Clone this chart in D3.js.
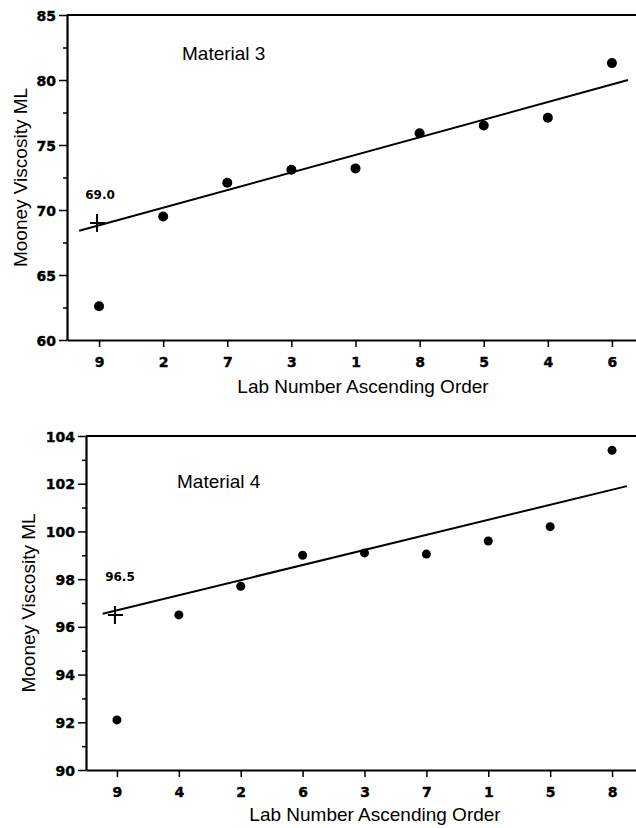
<!DOCTYPE html>
<html>
<head>
<meta charset="utf-8">
<script src="https://cdn.jsdelivr.net/npm/d3@7"></script>
<style>
  body { margin: 0; background: #fff; }
  svg { display: block; }
  .label { font-family: "Liberation Sans", Arial, sans-serif; font-size: 19px; fill: #000; }
</style>
</head>
<body>
<svg width="636" height="828"></svg>
<script>
// Material 3
const labsM3 = ["9", "2", "7", "3", "1", "8", "5", "4", "6"]
const valuesM3 = [62.6, 69.5, 72.1, 73.1, 73.2, 75.9, 76.5, 77.1, 81.3]
const fitM3 = [{pos: -0.31, v: 68.4}, {pos: 8.25, v: 80.0}]
const medianM3 = 69.0
const yTicksM3 = [60, 65, 70, 75, 80, 85]
const yMinorM3 = [62.5, 67.5, 72.5, 77.5, 82.5]

// Material 4
const labsM4 = ["9", "4", "2", "6", "3", "7", "1", "5", "8"]
const valuesM4 = [92.1, 96.5, 97.7, 99.0, 99.1, 99.05, 99.6, 100.2, 103.4]
const fitM4 = [{pos: -0.23, v: 96.55}, {pos: 8.24, v: 101.9}]
const medianM4 = 96.5
const yTicksM4 = [90, 92, 94, 96, 98, 100, 102, 104]
const yMinorM4 = [91, 93, 95, 97, 99, 101, 103]

const panels = [
  {
    title: "Material 3", labs: labsM3, values: valuesM3, fit: fitM3, median: medianM3,
    ticks: yTicksM3, minor: yMinorM3, domain: [60, 85], fmt: d3.format("d"),
    left: 67, right: 644, top: 15, bottom: 340, r: 5,
    titleX: 182, titleY: 60, xTitleX: 363, xTitleY: 393, yTitleX: 27,
    medDx: 3, medDy: -24
  },
  {
    title: "Material 4", labs: labsM4, values: valuesM4, fit: fitM4, median: medianM4,
    ticks: yTicksM4, minor: yMinorM4, domain: [90, 104], fmt: d3.format("d"),
    left: 86, right: 643, top: 436, bottom: 770, r: 4.5,
    titleX: 177, titleY: 488, xTitleX: 375, xTitleY: 821, yTitleX: 35,
    medDx: 5, medDy: -34
  }
]

const svg = d3.select("svg")

// heavy tick labels like the scanned original
const boldTicks = a => a.selectAll(".tick text")
  .style("font-family", "DejaVu Sans, sans-serif")
  .style("font-weight", "bold")
  .style("font-size", "14px")
  .attr("fill", "#000")
  .attr("stroke", "#000").attr("stroke-width", 0.4)

panels.forEach(p => {
  const x = d3.scaleLinear().domain([-0.5, p.labs.length - 0.5]).range([p.left, p.right])
  const y = d3.scaleLinear().domain(p.domain).range([p.bottom, p.top])
  const g = svg.append("g")

  // minor y ticks
  g.append("g")
    .attr("transform", `translate(${p.left},0)`)
    .call(d3.axisLeft(y).tickValues(p.minor).tickSize(4).tickFormat(""))
    .call(a => a.select(".domain").remove())
    .selectAll("line").attr("stroke-width", 1.5)

  // y axis
  g.append("g")
    .attr("transform", `translate(${p.left},0)`)
    .call(d3.axisLeft(y).tickValues(p.ticks).tickSize(8).tickPadding(3).tickFormat(p.fmt).tickSizeOuter(0))
    .call(a => a.select(".domain").attr("stroke-width", 2.2))
    .call(a => a.selectAll(".tick line").attr("stroke-width", 1.5))
    .call(boldTicks)
    .call(a => a.selectAll(".tick text").attr("dy", "0.36em"))

  // x axis
  g.append("g")
    .attr("transform", `translate(0,${p.bottom})`)
    .call(d3.axisBottom(x).tickValues(d3.range(p.labs.length)).tickFormat(i => p.labs[i])
      .tickSize(7).tickPadding(10).tickSizeOuter(0))
    .call(a => a.select(".domain").attr("stroke-width", 2.2))
    .call(a => a.selectAll(".tick line").attr("stroke-width", 1.5))
    .call(boldTicks)

  // top frame line
  g.append("line")
    .attr("x1", p.left).attr("x2", p.right)
    .attr("y1", y(p.domain[1])).attr("y2", y(p.domain[1]))
    .attr("stroke", "#000").attr("stroke-width", 2.2)

  // fitted line
  g.append("path")
    .datum(p.fit)
    .attr("fill", "none").attr("stroke", "#000").attr("stroke-width", 2)
    .attr("d", d3.line().x(d => x(d.pos)).y(d => y(d.v)))

  // points
  g.selectAll("circle")
    .data(p.values)
    .join("circle")
    .attr("cx", (d, i) => x(i))
    .attr("cy", d => y(d))
    .attr("r", p.r)
    .attr("fill", "#000")

  // median cross
  const mx = x(0) - 2, my = y(p.median)
  g.append("path")
    .attr("d", `M${mx},${my - 9}V${my + 9}M${mx - 7},${my}H${mx + 8}`)
    .attr("stroke", "#000").attr("stroke-width", 2).attr("fill", "none")
  g.append("text")
    .attr("x", mx + p.medDx).attr("y", my + p.medDy)
    .attr("text-anchor", "middle")
    .style("font-family", "DejaVu Sans, sans-serif").style("font-weight", "bold").style("font-size", "12px")
    .text(p.median.toFixed(1))

  // titles
  g.append("text").attr("class", "label")
    .attr("x", p.titleX).attr("y", p.titleY).text(p.title)
  g.append("text").attr("class", "label")
    .attr("x", p.xTitleX).attr("y", p.xTitleY).attr("text-anchor", "middle")
    .text("Lab Number Ascending Order")
  g.append("text").attr("class", "label")
    .attr("transform", `translate(${p.yTitleX},${(p.top + p.bottom) / 2}) rotate(-90)`)
    .attr("text-anchor", "middle")
    .text("Mooney Viscosity ML")
})
</script>
</body>
</html>
